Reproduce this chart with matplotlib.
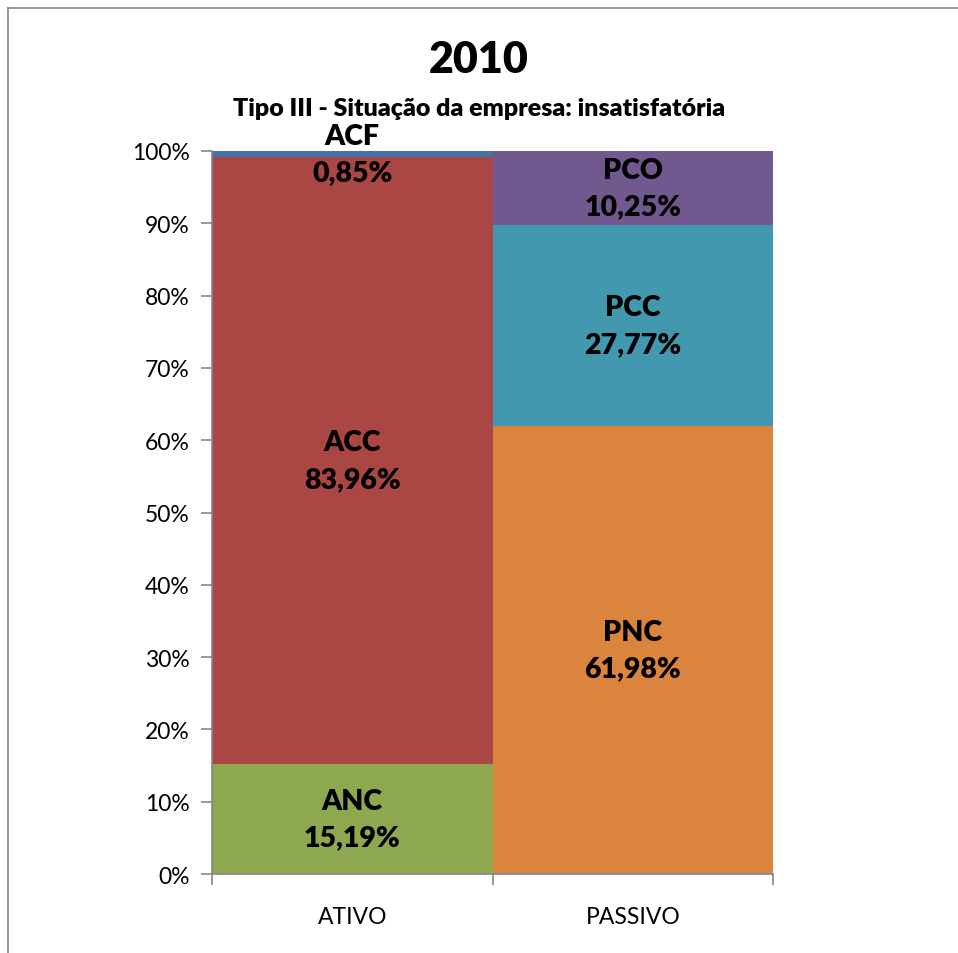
import matplotlib
matplotlib.use("Agg")
import matplotlib.pyplot as plt
from matplotlib.lines import Line2D

categories = ["ATIVO", "PASSIVO"]
ativo_names = ["ANC", "ACC", "ACF"]
ativo_values = [15.19, 83.96, 0.85]
ativo_colors = ["#8EA850", "#AA4643", "#4572A7"]
passivo_names = ["PNC", "PCC", "PCO"]
passivo_values = [61.98, 27.77, 10.25]
passivo_colors = ["#DB843D", "#4198AF", "#71588F"]
yticks = [0, 10, 20, 30, 40, 50, 60, 70, 80, 90, 100]

plt.rcParams['font.family'] = ['Lato', 'DejaVu Sans']

fig = plt.figure(figsize=(9.58, 9.54), dpi=100)
ax = fig.add_axes([212/958, 1-875/954, (773-212)/958, (875-152)/954])

def fmt(v):
    return f"{v:.2f}".replace(".", ",") + "%"

for i, (names, vals, cols) in enumerate([(ativo_names, ativo_values, ativo_colors),
                                          (passivo_names, passivo_values, passivo_colors)]):
    bottom = 0
    for n, v, c in zip(names, vals, cols):
        ax.bar(i, v, width=1.0, bottom=bottom, color=c, edgecolor='none')
        ax.text(i, bottom + v/2, f"{n}\n{fmt(v)}", ha='center', va='center',
                fontsize=20.5, fontweight='heavy', linespacing=1.5, color='black')
        bottom += v

ax.set_xlim(-0.5, 1.5)
ax.set_ylim(0, 100)
ax.set_yticks(yticks)
ax.set_yticklabels([f"{t}%" for t in yticks], fontsize=16.5)
ax.set_xticks([0, 1])
ax.set_xticklabels(categories, fontsize=16.5)
ax.set_xticks([-0.5, 0.5, 1.5], minor=True)
ax.tick_params(axis='x', which='major', length=0, pad=23)
ax.tick_params(axis='x', which='minor', length=8, color='#868686', width=1.2)
ax.tick_params(axis='y', length=8, color='#868686', width=1.2, pad=8)
for s in ['top', 'right']:
    ax.spines[s].set_visible(False)
for s in ['left', 'bottom']:
    ax.spines[s].set_color('#868686')
    ax.spines[s].set_linewidth(1.2)

fig.text(0.5, 1-60/954, "2010", ha='center', va='center', fontsize=31, fontweight='heavy')
fig.text(0.5, 1-109/954, "Tipo III - Situação da empresa: insatisfatória", ha='center', va='center',
         fontsize=18, fontweight='heavy')

# chart-area border (top and left)
fig.add_artist(Line2D([8/958, 8/958], [0, 1-9/954], transform=fig.transFigure, color='#868686', lw=1.2))
fig.add_artist(Line2D([8/958, 1], [1-9/954, 1-9/954], transform=fig.transFigure, color='#868686', lw=1.2))

fig.savefig("out.png", dpi=100)
